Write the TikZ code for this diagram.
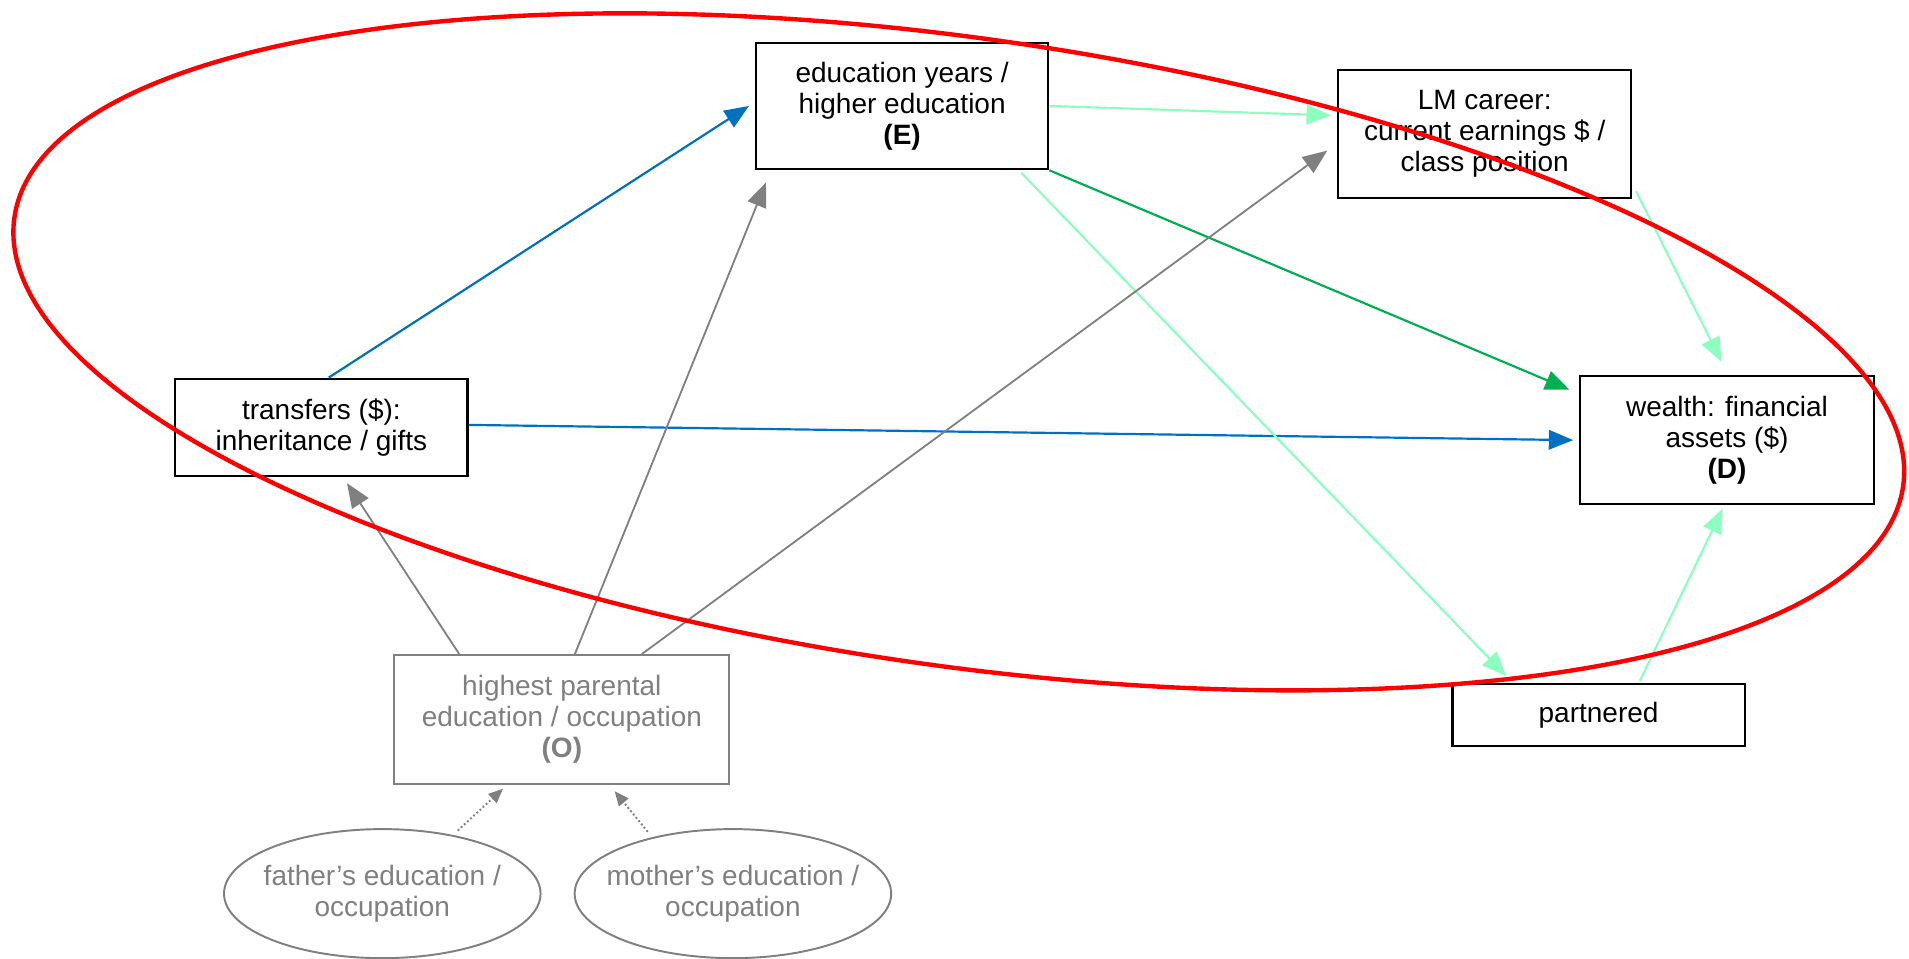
\documentclass[tikz,border=0pt]{standalone}
\usepackage{fontspec}
\setmainfont{Liberation Sans}
\usetikzlibrary{arrows.meta,shapes.geometric,calc}
\definecolor{linkblue}{HTML}{0070C0}
\definecolor{linkgreen}{HTML}{00B050}
\definecolor{linkmint}{HTML}{8CFFC0}
\definecolor{linkgray}{HTML}{808080}
\definecolor{loopred}{HTML}{FF0000}

\begin{document}
\begin{tikzpicture}[x=1pt,y=1pt,
  font=\fontsize{23}{25.5}\selectfont,
  box/.style={draw=black, line width=1.7pt, fill=white, align=center, inner sep=0pt},
  greybox/.style={draw=linkgray, line width=1.6pt, fill=white, text=linkgray, align=center, inner sep=0pt},
  oval/.style={ellipse, draw=linkgray, line width=1.6pt, text=linkgray, align=center,
    minimum width=260pt, minimum height=106pt, inner xsep=-30pt, inner ysep=0pt},
  link/.style={-{Triangle[length=20pt,width=16pt]}, line width=1.8pt},
  weak/.style={-{Triangle[length=12pt,width=10pt]}, line width=1.6pt, linkgray,
    dash pattern=on 1.5pt off 2pt}
]
\useasboundingbox (0,0) rectangle (1568,-787);

% boxes
\node[box, minimum width=240pt, minimum height=104pt] (E) at (741,-87)
  {education years /\\higher education\\\textbf{(E)}};
\node[box, minimum width=241pt, minimum height=105pt] (LM) at (1219.5,-109.75)
  {LM career:\\current earnings \$ /\\class position};
\node[box, minimum width=240pt, minimum height=80pt] (T) at (264,-351)
  {transfers (\$):\\inheritance / gifts};
\node[box, minimum width=241pt, minimum height=105pt] (D) at (1418.5,-361.5)
  {wealth: financial\\assets (\$)\\\textbf{(D)}};
\node[greybox, minimum width=275pt, minimum height=106pt] (O) at (461.5,-591)
  {highest parental\\education / occupation\\\textbf{(O)}};
\node[box, minimum width=240pt, minimum height=51pt] (P) at (1313,-587.5)
  {partnered};
\node[oval] (F) at (314,-734) {father’s education /\\occupation};
\node[oval] (M) at (602,-734) {mother’s education /\\occupation};

% transfers
\draw[link, linkblue] ($(T.north)+(6,0)$) -- ($(E.west)+(-5,0)$);
\draw[link, linkblue] ($(T.east)+(0,2)$) -- ($(D.west)+(-5,0)$);

% education
\draw[link, linkmint] (E.east) -- ($(LM.west)+(-5,15)$);
\draw[link, linkgreen] (E.south east) -- ($(D.north west)+(-8,-12)$);
\draw[link, linkmint] ($(E.south east)+(-23,-2)$) -- ($(P.north west)+(45,6)$);

% career and partnership
\draw[link, linkmint] ($(LM.south east)+(3,6)$) -- ($(D.north)+(-4.5,11)$);
\draw[link, linkmint] ($(P.north)+(34,2)$) -- ($(D.south)+(-3.5,-3)$);

% parental origin
\draw[link, linkgray, line width=1.5pt] ($(O.north west)+(54,0)$) -- ($(T.south)+(21,-5)$);
\draw[link, linkgray, line width=1.5pt] ($(O.north west)+(149,0)$) -- ($(E.south west)+(9,-10)$);
\draw[link, linkgray, line width=1.5pt] ($(O.north west)+(204,0)$) -- ($(LM.west)+(-8,-14)$);
\draw[weak] ($(F.north)+(62,-2)$) -- ($(O.south west)+(90,-3)$);
\draw[weak] ($(M.north)+(-70,-3)$) -- ($(O.south east)+(-95,-5)$);

% enclosing loop
\draw[loopred, line width=3.6pt, rotate around={-8.1:(787.5,-289)}]
  (787.5,-289) ellipse [x radius=783.5, y radius=257.7];
\end{tikzpicture}
\end{document}
